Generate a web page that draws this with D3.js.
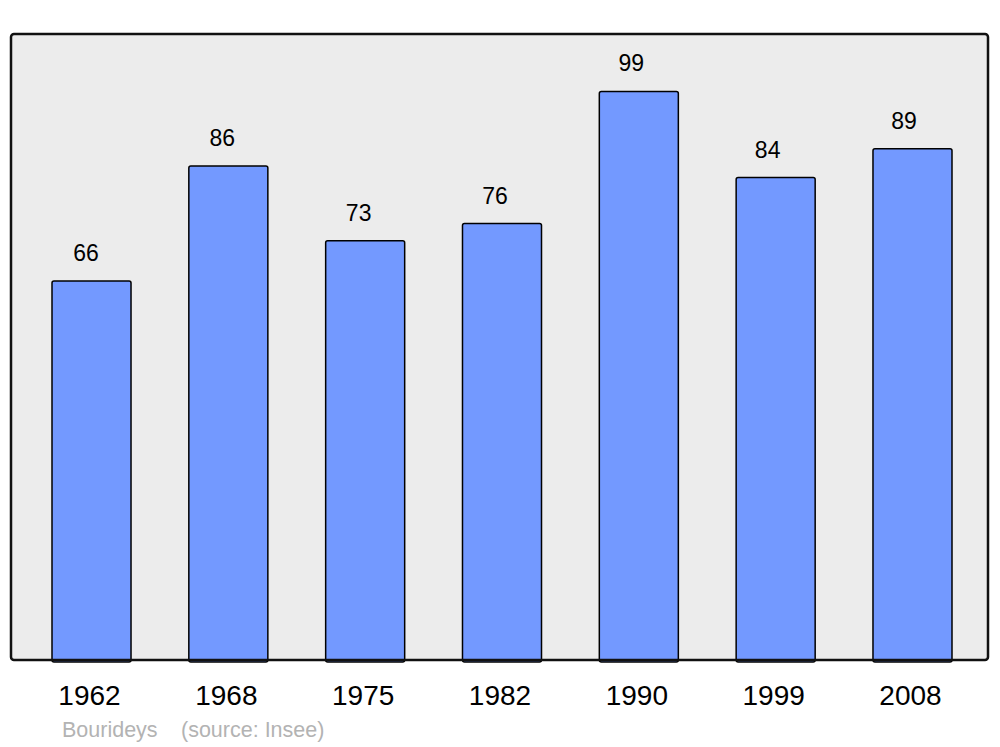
<!DOCTYPE html>
<html>
<head>
<meta charset="utf-8">
<script src="https://cdn.jsdelivr.net/npm/d3@7"></script>
<style>
  html, body { margin: 0; padding: 0; background: #ffffff; }
  svg { display: block; font-family: "Liberation Sans", Arial, sans-serif; }
</style>
</head>
<body>
<svg id="chart" width="1000" height="747"></svg>
<script>
const years = ["1962", "1968", "1975", "1982", "1990", "1999", "2008"];
const population = [66, 86, 73, 76, 99, 84, 89];
const sourceLabel = "Bourideys";
const sourceNote = "(source: Insee)";

const svg = d3.select("#chart");
const frame = { left: 11, right: 988, top: 34, bottom: 660 };

const x = d3.scaleBand()
  .domain(years)
  .range([52, 952])
  .paddingInner(0.4225)
  .paddingOuter(0);

// value labels sit slightly left of the bar centres in the original
const labelX = d3.scalePoint()
  .domain(years)
  .range([86, 904]);

const y = d3.scaleLinear()
  .domain([0, 109])
  .range([frame.bottom, frame.top]);

svg.append("rect")
  .attr("x", frame.left)
  .attr("y", frame.top)
  .attr("width", frame.right - frame.left)
  .attr("height", frame.bottom - frame.top)
  .attr("rx", 3)
  .attr("fill", "#ececec")
  .attr("stroke", "none");

const data = years.map((yr, i) => ({ year: yr, value: population[i] }));

svg.append("g").selectAll("rect")
  .data(data)
  .join("rect")
  .attr("x", d => x(d.year))
  .attr("y", d => y(d.value))
  .attr("width", x.bandwidth())
  .attr("height", d => y(0) - y(d.value) + 2)
  .attr("rx", 2)
  .attr("fill", "#7399ff")
  .attr("stroke", "#000")
  .attr("stroke-width", 1.5);

// frame border on top
svg.append("rect")
  .attr("x", frame.left)
  .attr("y", frame.top)
  .attr("width", frame.right - frame.left)
  .attr("height", frame.bottom - frame.top)
  .attr("rx", 3)
  .attr("fill", "none")
  .attr("stroke", "#111")
  .attr("stroke-width", 2.5);

svg.append("g").selectAll("text")
  .data(data)
  .join("text")
  .attr("x", d => labelX(d.year))
  .attr("y", d => y(d.value) - 20)
  .attr("text-anchor", "middle")
  .attr("font-size", 23)
  .attr("fill", "#000")
  .text(d => d.value);

const xAxis = d3.axisBottom(x).tickSize(0).tickPadding(0);
const gx = svg.append("g")
  .attr("transform", `translate(-2, ${frame.bottom})`)
  .call(xAxis);
gx.select(".domain").remove();
gx.selectAll("text")
  .attr("font-size", 28)
  .attr("font-family", "'Liberation Sans', Arial, sans-serif")
  .attr("fill", "#000")
  .attr("dy", null)
  .attr("y", 45);

svg.append("text")
  .attr("x", 62)
  .attr("y", 737)
  .attr("font-size", 21.5)
  .attr("fill", "#b3b3b3")
  .text(sourceLabel);
svg.append("text")
  .attr("x", 181)
  .attr("y", 737)
  .attr("font-size", 21.5)
  .attr("fill", "#b3b3b3")
  .text(sourceNote);
</script>
</body>
</html>
